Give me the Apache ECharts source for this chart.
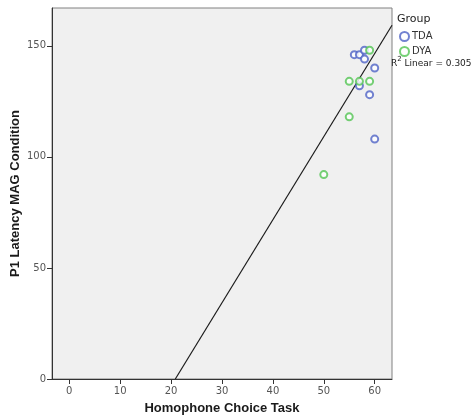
<!DOCTYPE html>
<html>
<head>
<meta charset="utf-8">
<script src="https://cdn.jsdelivr.net/npm/echarts@6/dist/echarts.min.js"></script>
<style>
  html, body { margin: 0; padding: 0; background: #fff; }
  #chart { width: 475px; height: 420px; }
</style>
</head>
<body>
<div id="chart"></div>
<script>
// Homophone Choice Task score vs P1 latency (MAG condition), by group
const tdaPoints = [[56, 146], [57, 146], [58, 148], [58, 144], [60, 140], [57, 132], [59, 128], [60, 108]];
const dyaPoints = [[59, 148], [55, 134], [57, 134], [59, 134], [55, 118], [50, 92]];
const xTicks = [0, 10, 20, 30, 40, 50, 60];
const yTicks = [0, 50, 100, 150];
const xRange = [-3.4, 63.4];
const yRange = [0, 167];
// Linear fit across all cases
const fitSlope = 3.74;
const fitIntercept = -77.9;
const fitR2 = 0.305;

// Fit line endpoints, clipped to the visible axis range
const xStart = Math.max(xRange[0], (yRange[0] - fitIntercept) / fitSlope);
const xEnd = Math.min(xRange[1], (yRange[1] - fitIntercept) / fitSlope);
const fitLine = [[xStart, fitSlope * xStart + fitIntercept], [xEnd, fitSlope * xEnd + fitIntercept]];

const FONT = 'DejaVu Sans';
const TITLE_FONT = 'Liberation Sans';
const chart = echarts.init(document.getElementById('chart'), null, { renderer: 'canvas' });

chart.setOption({
  animation: false,
  backgroundColor: '#ffffff',
  textStyle: { fontFamily: FONT },
  grid: {
    left: 52, top: 8, width: 340, height: 371,
    show: true, backgroundColor: '#f0f0f0', borderColor: '#808080', borderWidth: 1,
    containLabel: false, outerBoundsMode: 'none'
  },
  xAxis: {
    type: 'value', min: xRange[0], max: xRange[1],
    name: 'Homophone Choice Task', nameLocation: 'middle', nameGap: 23, nameMoveOverlap: false,
    nameTextStyle: { fontFamily: TITLE_FONT, fontWeight: 'bold', fontSize: 13, color: '#1a1a1a' },
    splitLine: { show: false },
    axisLine: { show: true, onZero: false, lineStyle: { color: '#333', width: 1 } },
    axisTick: { show: true, inside: false, length: 5, customValues: xTicks, lineStyle: { color: '#333' } },
    axisLabel: { customValues: xTicks, fontSize: 10, color: '#555', margin: 7 }
  },
  yAxis: {
    type: 'value', min: yRange[0], max: yRange[1],
    name: 'P1 Latency MAG Condition', nameLocation: 'middle', nameGap: 30, nameRotate: 90, nameMoveOverlap: false,
    nameTextStyle: { fontFamily: TITLE_FONT, fontWeight: 'bold', fontSize: 13, color: '#1a1a1a' },
    splitLine: { show: false },
    axisLine: { show: true, onZero: false, lineStyle: { color: '#333', width: 1 } },
    axisTick: { show: true, inside: false, length: 5, customValues: yTicks, lineStyle: { color: '#333' } },
    axisLabel: { customValues: yTicks, fontSize: 10, color: '#555', margin: 6 }
  },
  legend: {
    orient: 'vertical', left: 399, top: 31, itemGap: 4,
    itemWidth: 9, itemHeight: 9, padding: 0,
    data: [{ name: 'TDA', icon: 'emptyCircle' }, { name: 'DYA', icon: 'emptyCircle' }],
    textStyle: { fontSize: 10, color: '#333', padding: [0, 0, 0, -2] }
  },
  graphic: [
    { type: 'text', left: 397, top: 14, style: { text: 'Group', font: '11px "DejaVu Sans"', fill: '#222' } },
    {
      type: 'text', left: 391, top: 56,
      style: {
        text: '{n|R}{s|2}{n| Linear = ' + fitR2.toFixed(3) + '}',
        rich: {
          n: { fontFamily: FONT, fontSize: 9, fill: '#222', verticalAlign: 'bottom' },
          s: { fontFamily: FONT, fontSize: 7, fill: '#222', verticalAlign: 'top', padding: [0, 0, 5, 0] }
        }
      }
    }
  ],
  series: [
    {
      name: 'TDA', type: 'scatter', data: tdaPoints, symbol: 'emptyCircle', symbolSize: 7,
      itemStyle: { color: '#4f63c6', borderColor: '#4f63c6', borderWidth: 1 }, z: 3
    },
    {
      name: 'DYA', type: 'scatter', data: dyaPoints, symbol: 'emptyCircle', symbolSize: 7,
      itemStyle: { color: '#52c452', borderColor: '#52c452', borderWidth: 1 }, z: 3
    },
    {
      name: 'Linear fit', type: 'line', data: fitLine, showSymbol: false, symbol: 'none',
      lineStyle: { color: '#1a1a1a', width: 1.2 }, z: 2, silent: true
    }
  ]
});
</script>
</body>
</html>
